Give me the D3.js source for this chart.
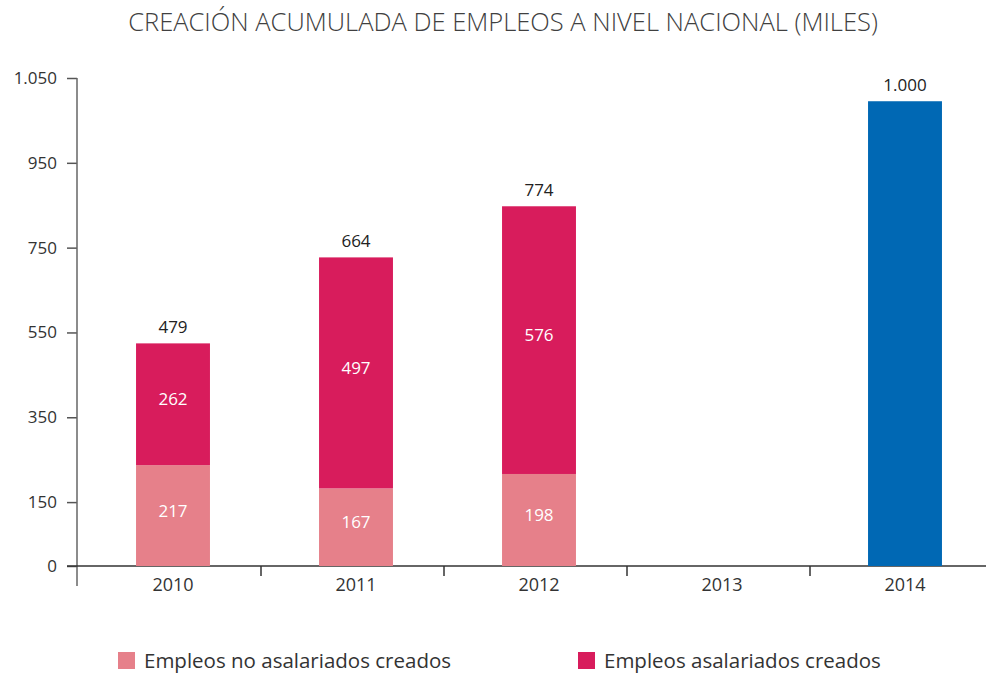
<!DOCTYPE html>
<html>
<head>
<meta charset="utf-8">
<script src="https://cdn.jsdelivr.net/npm/d3@7"></script>
<style>
  body { margin: 0; background: #fff; }
  text { font-family: "Open Sans", "Noto Sans", sans-serif; }
</style>
</head>
<body>
<div id="chart"></div>
<script>
// Data
const years = ["2010", "2011", "2012", "2013", "2014"];
const noAsalariados = [217, 167, 198, null, null];
const asalariados = [262, 497, 576, null, null];
const totals = [479, 664, 774, null, 1000];
const totalLabels = ["479", "664", "774", "", "1.000"];
// y tick positions (in data units) and the labels printed on them
const yTickValues = [0, 137.5, 320, 502.5, 685, 867.5, 1050];
const yTickLabels = ["0", "150", "350", "550", "750", "950", "1.050"];

const colors = { light: "#e6808a", dark: "#d81c5c", blue: "#0068b4" };

const W = 986, H = 675;
const svg = d3.select("#chart").append("svg")
  .attr("width", W).attr("height", H);

// Scales
const x = d3.scaleBand()
  .domain(years)
  .range([78, 993])
  .paddingInner(0.596)
  .paddingOuter(0.298);
const barShift = 3.5; // bars sit a bit right of the band centre

const y = d3.scaleLinear()
  .domain([0, 1050])
  .range([566, 78]);

// Title
svg.append("text")
  .attr("x", 503).attr("y", 31)
  .attr("text-anchor", "middle")
  .attr("font-size", 25.5)
  .attr("font-weight", 300)
  .attr("fill", "#404040")
  .text("CREACIÓN ACUMULADA DE EMPLEOS A NIVEL NACIONAL (MILES)");

// Y axis
const yAxis = svg.append("g")
  .attr("transform", "translate(77,0)")
  .call(d3.axisLeft(y).tickValues(yTickValues)
    .tickFormat((d, i) => yTickLabels[i]).tickSize(10).tickPadding(10));
yAxis.select(".domain").remove();
yAxis.selectAll(".tick line").attr("stroke", "#555").attr("stroke-width", 1.5);
yAxis.selectAll(".tick text").attr("font-size", 17).attr("fill", "#333");
yAxis.append("line")
  .attr("x1", 0).attr("x2", 0)
  .attr("y1", y(1050)).attr("y2", y(0) + 20)
  .attr("stroke", "#666").attr("stroke-width", 1.5);

// X axis
const xAxis = svg.append("g").attr("transform", `translate(0,${y(0)})`);
xAxis.append("line")
  .attr("x1", 67).attr("x2", W)
  .attr("stroke", "#333").attr("stroke-width", 1.5);
years.slice(1).forEach(d => {
  const sx = x(d) - x.step() * x.paddingInner() / 2;
  xAxis.append("line")
    .attr("x1", sx).attr("x2", sx)
    .attr("y1", 0).attr("y2", 10)
    .attr("stroke", "#333").attr("stroke-width", 1.5);
});
xAxis.selectAll(".xlab")
  .data(years)
  .enter().append("text")
  .attr("x", d => x(d) + x.bandwidth() / 2 + barShift)
  .attr("y", 25)
  .attr("text-anchor", "middle")
  .attr("font-size", 18)
  .attr("fill", "#333")
  .text(d => d);

// Bars
const bw = x.bandwidth();
years.forEach((yr, i) => {
  const bx = x(yr) + barShift;
  if (noAsalariados[i] != null) {
    const a = noAsalariados[i], b = asalariados[i];
    svg.append("rect")
      .attr("x", bx).attr("width", bw)
      .attr("y", y(a)).attr("height", y(0) - y(a))
      .attr("fill", colors.light);
    svg.append("rect")
      .attr("x", bx).attr("width", bw)
      .attr("y", y(a + b)).attr("height", y(a) - y(a + b))
      .attr("fill", colors.dark);
    svg.append("text")
      .attr("x", bx + bw / 2).attr("y", (y(0) + y(a)) / 2 + 1)
      .attr("text-anchor", "middle").attr("font-size", 17).attr("fill", "#fff")
      .text(a);
    svg.append("text")
      .attr("x", bx + bw / 2).attr("y", (y(a) + y(a + b)) / 2 + 1)
      .attr("text-anchor", "middle").attr("font-size", 17).attr("fill", "#fff")
      .text(b);
  } else if (totals[i] != null) {
    svg.append("rect")
      .attr("x", bx).attr("width", bw)
      .attr("y", y(totals[i])).attr("height", y(0) - y(totals[i]))
      .attr("fill", colors.blue);
  }
  if (totals[i] != null) {
    svg.append("text")
      .attr("x", bx + bw / 2).attr("y", y(totals[i]) - 10)
      .attr("text-anchor", "middle").attr("font-size", 17).attr("fill", "#222")
      .text(totalLabels[i]);
  }
});

// Legend
const legend = [
  { label: "Empleos no asalariados creados", color: colors.light, x: 118 },
  { label: "Empleos asalariados creados", color: colors.dark, x: 578 }
];
const lg = svg.selectAll(".legend")
  .data(legend)
  .enter().append("g")
  .attr("transform", d => `translate(${d.x},652)`);
lg.append("rect").attr("width", 17).attr("height", 17).attr("fill", d => d.color);
lg.append("text")
  .attr("x", 26).attr("y", 16)
  .attr("font-size", 20.5).attr("fill", "#333")
  .text(d => d.label);
</script>
</body>
</html>
